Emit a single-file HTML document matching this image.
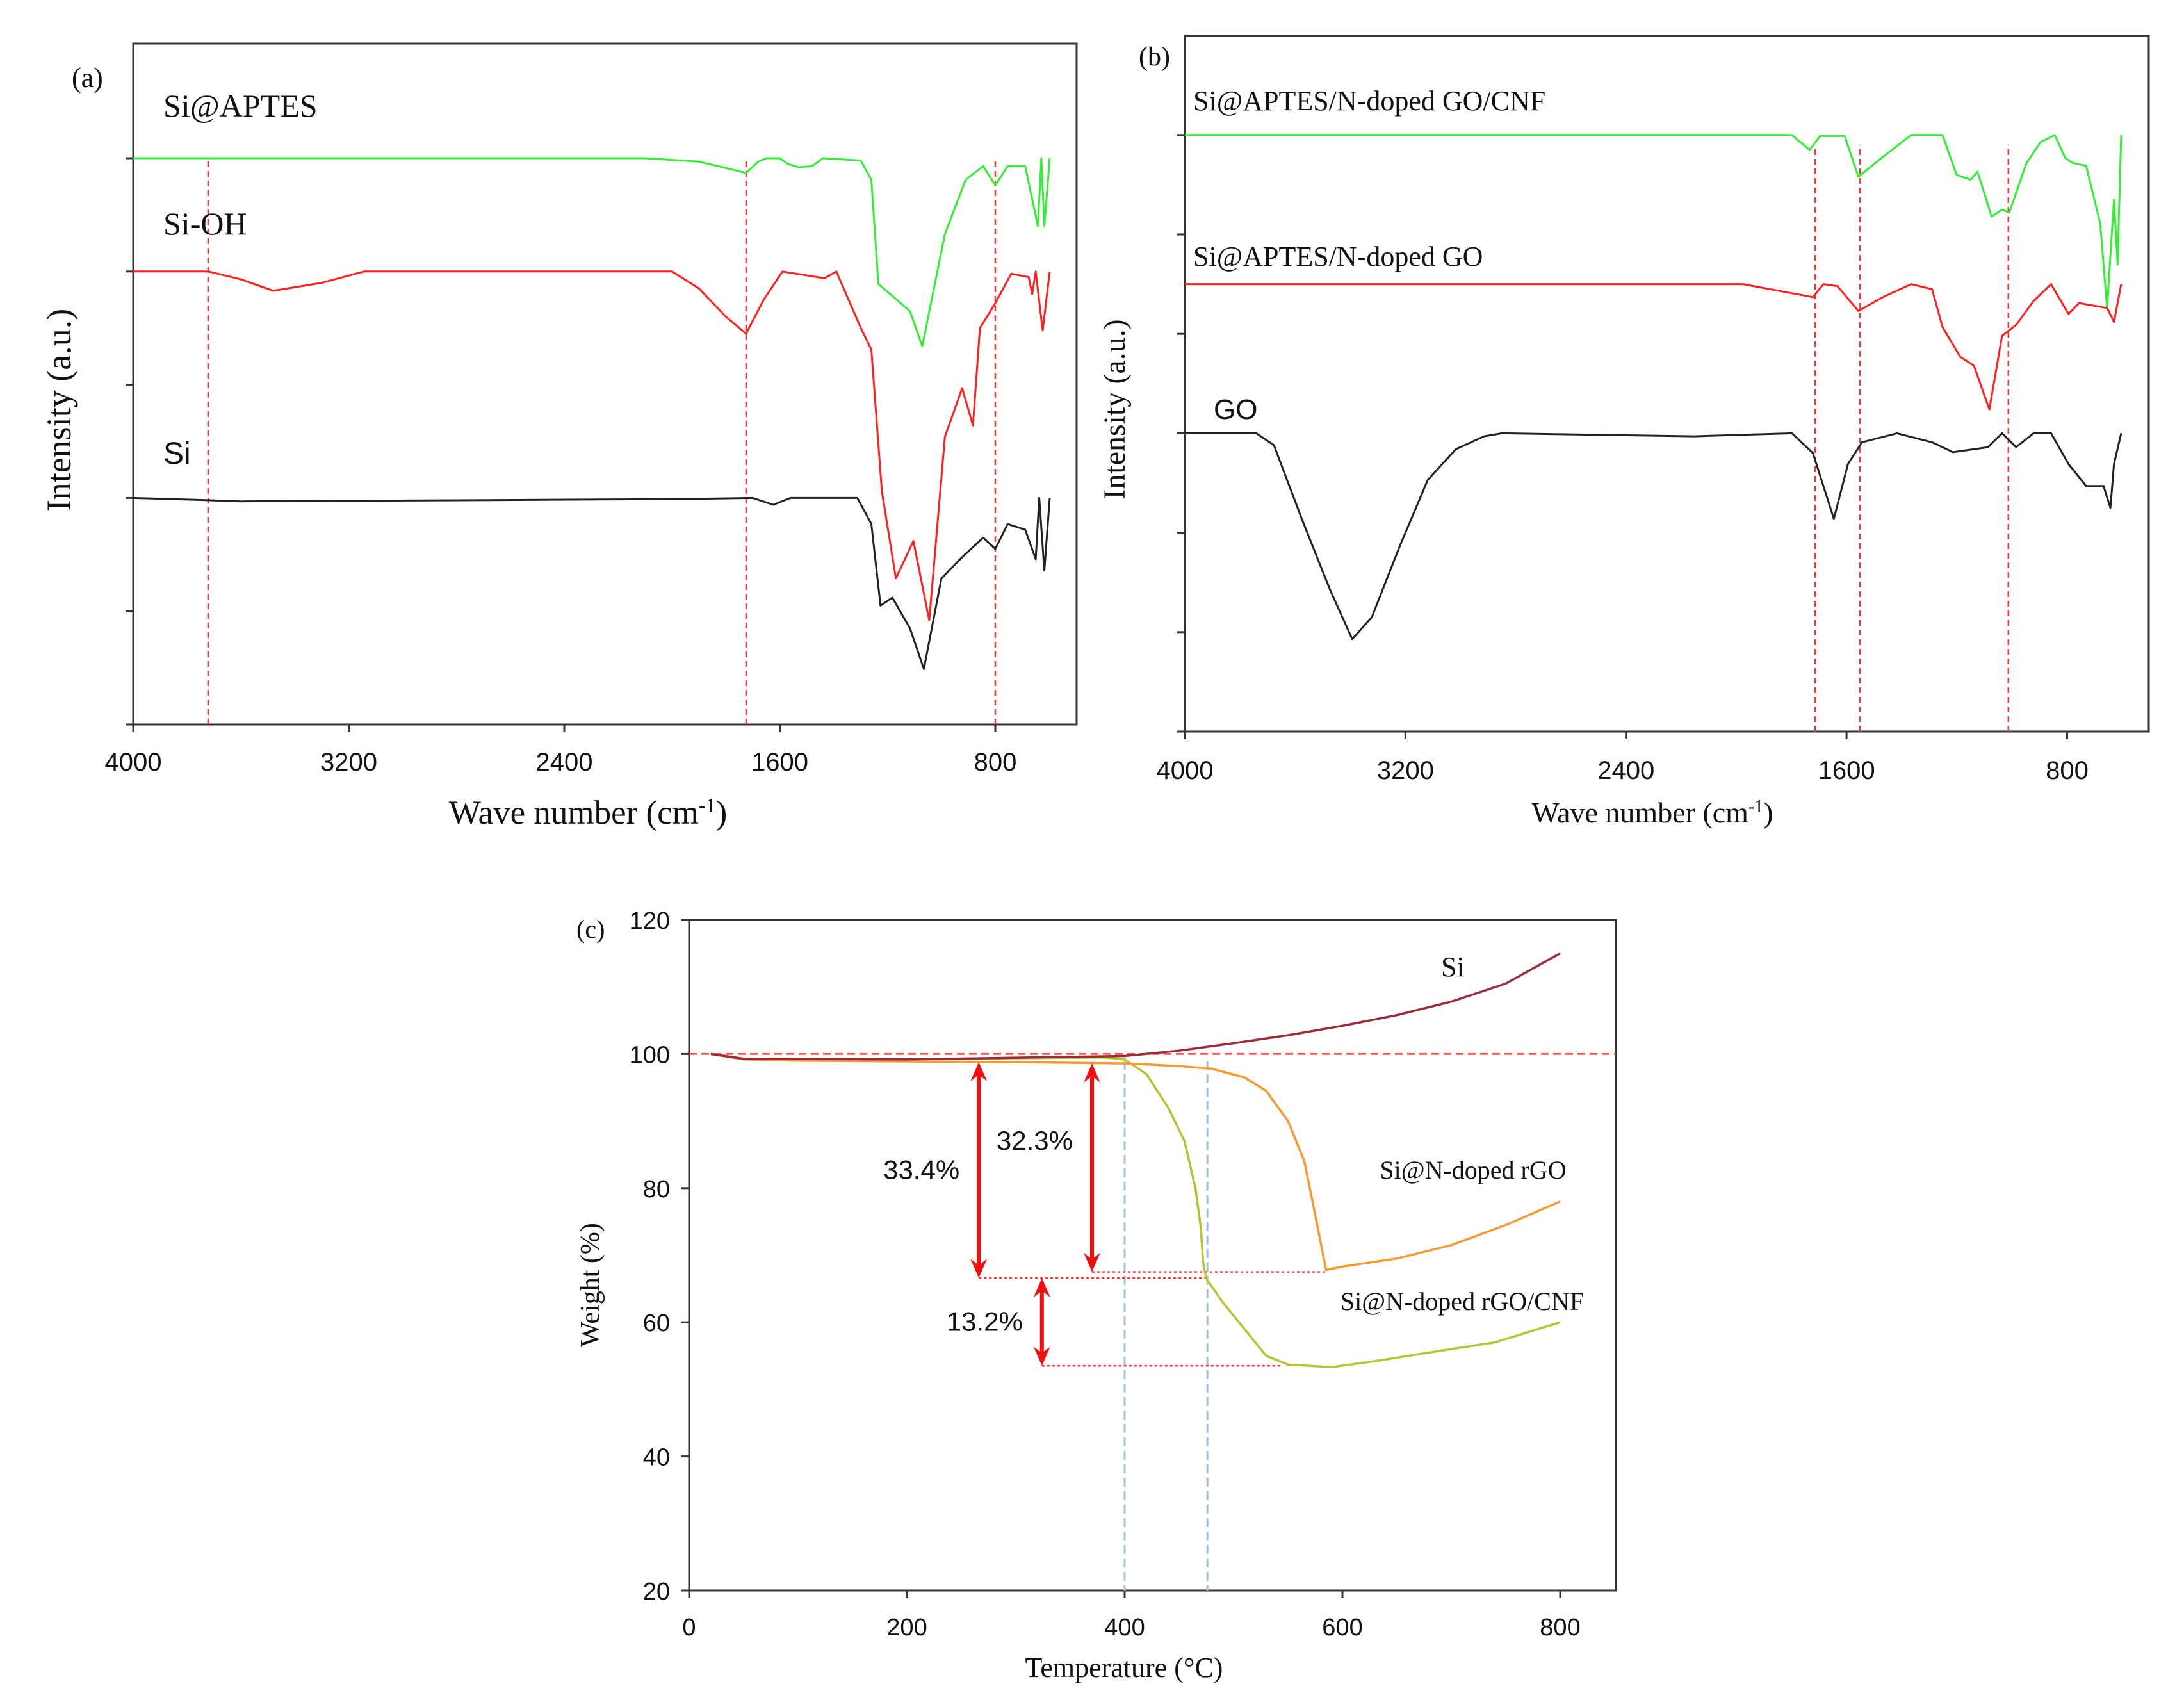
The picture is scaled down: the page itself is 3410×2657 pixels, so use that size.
<!DOCTYPE html>
<html><head><meta charset="utf-8">
<style>
html,body{margin:0;padding:0;background:#fff;}
svg{display:block;}
.serif{font-family:"Liberation Serif",serif;}
.sans{font-family:"Liberation Sans",sans-serif;}
</style></head>
<body>
<svg id="fig" width="3410" height="2657" viewBox="0 0 3410 2657" xmlns="http://www.w3.org/2000/svg">
<rect width="3410" height="2657" fill="#fff"/>
<g id="pa"></g>
<g id="pb"></g>
<g id="pc"></g>
</svg>
<script>
// ---------- Panel (a) data ----------
const aTicksX = [4000, 3200, 2400, 1600, 800];
const aTicksY = [0, 1, 2, 3, 4, 5];
const aDashWN = [3722, 1725, 800];
const aGreenWN = [4000,3000,2100,1900,1725,1680,1650,1600,1570,1530,1480,1440,1300,1260,1234,1117,1071,987,910,845,800,754,689,642,629,618,598];
const aGreenV  = [5,5,5,4.97,4.87,4.97,5,5,4.95,4.92,4.93,5,4.98,4.81,3.89,3.65,3.34,4.33,4.81,4.93,4.76,4.93,4.93,4.40,5.0,4.40,5.0];
const aRedWN = [4000,3720,3600,3480,3300,3143,2000,1900,1800,1725,1660,1590,1434,1390,1299,1260,1221,1169,1104,1045,987,923,883,857,800,741,676,663,650,624,598];
const aRedV  = [4,4,3.93,3.83,3.9,4,4,3.85,3.6,3.45,3.75,4,3.94,4,3.5,3.31,2.06,1.29,1.62,0.92,2.54,2.97,2.64,3.5,3.72,3.98,3.95,3.8,4,3.48,4];
const aBlackWN = [4000,3720,3600,2000,1700,1624,1560,1312,1260,1226,1182,1117,1065,1000,922,845,800,754,689,650,637,618,598];
const aBlackV  = [2,1.98,1.97,1.99,2,1.94,2,2,1.77,1.05,1.12,0.85,0.49,1.29,1.48,1.65,1.55,1.77,1.72,1.46,2,1.36,2];
// ---------- Panel (b) data ----------
const bTicksX = [4000, 3200, 2400, 1600, 800];
const bTicksY = [0, 1, 2, 3, 4, 5, 6];
const bDashWN = [1714, 1551, 1013];
const bGreenWN = [4000,2000,1798,1734,1696,1607,1557,1468,1366,1252,1201,1150,1125,1074,1036,1010,947,896,845,807,780,731,680,655,630,617,604];
const bGreenV  = [6,6,6,5.85,5.99,5.99,5.58,5.78,6,6,5.60,5.55,5.63,5.18,5.25,5.22,5.72,5.93,6,5.77,5.72,5.69,5.11,4.26,5.35,4.7,6];
const bRedWN = [4000,1976,1722,1684,1633,1557,1468,1366,1290,1252,1188,1138,1082,1036,985,922,858,795,757,655,630,604];
const bRedV  = [4.5,4.5,4.37,4.5,4.48,4.23,4.37,4.5,4.45,4.07,3.77,3.68,3.24,3.98,4.09,4.33,4.5,4.20,4.31,4.26,4.12,4.5];
const bBlackWN = [4000,3741,3677,3576,3474,3393,3322,3220,3119,3017,2915,2850,2153,1798,1722,1646,1595,1544,1417,1290,1214,1087,1036,985,922,858,795,731,668,643,630,604];
const bBlackV  = [3,3,2.88,2.14,1.43,0.93,1.15,1.87,2.53,2.84,2.97,3,2.97,3,2.80,2.14,2.69,2.91,3,2.91,2.81,2.86,3,2.86,3,3,2.69,2.47,2.47,2.25,2.69,3];
// ---------- Panel (c) data ----------
const cTicksX = [0, 200, 400, 600, 800];
const cTicksY = [20, 40, 60, 80, 100, 120];
const cSiT = [20,50,200,400,450,500,550,600,650,700,750,800];
const cSiW = [100,99.3,99.2,99.7,100.5,101.6,102.8,104.2,105.8,107.8,110.5,115];
const cRgoT = [20,50,100,300,400,450,480,510,530,550,565,575,585,600,650,700,750,800];
const cRgoW = [100,99.2,99,98.8,98.6,98.2,97.8,96.5,94.5,90,84,76,67.8,68.3,69.5,71.5,74.5,78];
const cCnfT = [20,50,200,380,400,420,440,455,465,470,472,475,490,510,530,550,590,630,680,740,800];
const cCnfW = [100,99.3,99.2,99.5,99.2,97,92,87,80,74,69,66.5,63,59,55,53.7,53.3,54.2,55.5,57,60];
const cArrowT = [266, 370, 324];
const cArrowTop = [98.8, 98.6, 66.6];
const cArrowBot = [66.6, 67.5, 53.5];
const cArrowLbl = ["33.4%", "32.3%", "13.2%"];
const cDotW = [66.6, 67.5, 53.5];
const cDotT0 = [266, 370, 324];
const cDotT1 = [475, 585, 545];
const cBlueT = [400, 476];

const NS = "http://www.w3.org/2000/svg";
function mk(parent, tag, attrs, text) {
  const e = document.createElementNS(NS, tag);
  for (const k in attrs) e.setAttribute(k, attrs[k]);
  if (text !== undefined) e.textContent = text;
  parent.appendChild(e);
  return e;
}
function pathFrom(xs, ys, fx, fy) {
  let d = "";
  for (let i = 0; i < xs.length; i++) d += (i ? "L" : "M") + fx(xs[i]).toFixed(1) + "," + fy(ys[i]).toFixed(1);
  return d;
}

// ===== Panel A =====
(function(){
  const g = document.getElementById("pa");
  const L=208,R=1681,T=68,B=1131;
  const xa = wn => L + (4000-wn)/3200*(1554-208);
  const ya = v => B - v*176.8;
  let e = mk(g,"rect",{x:L,y:T,width:R-L,height:B-T,fill:"none",stroke:"#333","stroke-width":3});
   
  aTicksX.forEach(t=>{
    e = mk(g,"line",{x1:xa(t),x2:xa(t),y1:B,y2:B+12,stroke:"#333","stroke-width":3});
     
    e = mk(g,"text",{x:xa(t),y:1203,"text-anchor":"middle","font-size":40,class:"sans",fill:"#111"},String(t));
     
  });
  aTicksY.forEach(t=>{
    e = mk(g,"line",{x1:L-12,x2:L,y1:ya(t),y2:ya(t),stroke:"#333","stroke-width":3});
     
  });
  aDashWN.forEach(w=>{
    e = mk(g,"line",{x1:xa(w),x2:xa(w),y1:B,y2:ya(5),stroke:"#f33","stroke-width":2.5,"stroke-dasharray":"9,6"});
     
  });
  e = mk(g,"path",{d:pathFrom(aGreenWN,aGreenV,xa,ya),fill:"none",stroke:"#33ee33","stroke-width":3,"stroke-linejoin":"round"});
   
  e = mk(g,"path",{d:pathFrom(aRedWN,aRedV,xa,ya),fill:"none",stroke:"#ff2020","stroke-width":3,"stroke-linejoin":"round"});
   
  e = mk(g,"path",{d:pathFrom(aBlackWN,aBlackV,xa,ya),fill:"none",stroke:"#222","stroke-width":3,"stroke-linejoin":"round"});
   
  e = mk(g,"text",{x:112,y:136,"font-size":44,class:"serif",fill:"#111"},"(a)");
   
  e = mk(g,"text",{x:255,y:182,"font-size":50,class:"serif",fill:"#111"},"Si@APTES");
   
  e = mk(g,"text",{x:255,y:366,"font-size":50,class:"serif",fill:"#111"},"Si-OH");
   
  e = mk(g,"text",{x:255,y:724,"font-size":48,class:"sans",fill:"#111"},"Si");
   
  e = mk(g,"text",{x:0,y:0,"font-size":54,class:"serif",fill:"#111","text-anchor":"middle",transform:"translate(110,640) rotate(-90)"},"Intensity (a.u.)");
   
  e = mk(g,"text",{x:918,y:1286,"font-size":53,class:"serif",fill:"#111","text-anchor":"middle"});
   
  e.innerHTML = 'Wave number (cm<tspan dy="-18" font-size="32">-1</tspan><tspan dy="18">)</tspan>';
})();

// ===== Panel B =====
(function(){
  const g = document.getElementById("pb");
  const L=1850,R=3355,T=56,B=1142;
  const xb = wn => L + (4000-wn)/3200*(3227.5-1850);
  const yb = v => B - v*155.2;
  let e = mk(g,"rect",{x:L,y:T,width:R-L,height:B-T,fill:"none",stroke:"#333","stroke-width":3});
   
  bTicksX.forEach(t=>{
    e = mk(g,"line",{x1:xb(t),x2:xb(t),y1:B,y2:B+12,stroke:"#333","stroke-width":3});
     
    e = mk(g,"text",{x:xb(t),y:1216,"text-anchor":"middle","font-size":40,class:"sans",fill:"#111"},String(t));
     
  });
  bTicksY.forEach(t=>{
    e = mk(g,"line",{x1:L-12,x2:L,y1:yb(t),y2:yb(t),stroke:"#333","stroke-width":3});
     
  });
  bDashWN.forEach(w=>{
    e = mk(g,"line",{x1:xb(w),x2:xb(w),y1:B,y2:yb(5.9),stroke:"#f33","stroke-width":2.5,"stroke-dasharray":"9,6"});
     
  });
  e = mk(g,"path",{d:pathFrom(bGreenWN,bGreenV,xb,yb),fill:"none",stroke:"#33ee33","stroke-width":3,"stroke-linejoin":"round"});
   
  e = mk(g,"path",{d:pathFrom(bRedWN,bRedV,xb,yb),fill:"none",stroke:"#ff2020","stroke-width":3,"stroke-linejoin":"round"});
   
  e = mk(g,"path",{d:pathFrom(bBlackWN,bBlackV,xb,yb),fill:"none",stroke:"#222","stroke-width":3,"stroke-linejoin":"round"});
   
  e = mk(g,"text",{x:1778,y:102,"font-size":42,class:"serif",fill:"#111"},"(b)");
   
  e = mk(g,"text",{x:1863,y:172,"font-size":44,class:"serif",fill:"#111"},"Si@APTES/N-doped GO/CNF");
   
  e = mk(g,"text",{x:1863,y:415,"font-size":44,class:"serif",fill:"#111"},"Si@APTES/N-doped GO");
   
  e = mk(g,"text",{x:1895,y:654,"font-size":44,class:"sans",fill:"#111"},"GO");
   
  e = mk(g,"text",{x:0,y:0,"font-size":48,class:"serif",fill:"#111","text-anchor":"middle",transform:"translate(1756,639) rotate(-90)"},"Intensity (a.u.)");
   
  e = mk(g,"text",{x:2580,y:1284,"font-size":46,class:"serif",fill:"#111","text-anchor":"middle"});
   
  e.innerHTML = 'Wave number (cm<tspan dy="-16" font-size="28">-1</tspan><tspan dy="16">)</tspan>';
})();

// ===== Panel C =====
(function(){
  const g = document.getElementById("pc");
  const L=1076,R=2523,T=1436,B=2483;
  const xc = t => L + t*1.7;
  const yc = w => B - (w-20)*10.47;
  let e = mk(g,"rect",{x:L,y:T,width:R-L,height:B-T,fill:"none",stroke:"#333","stroke-width":3});
   
  cTicksX.forEach(t=>{
    e = mk(g,"line",{x1:xc(t),x2:xc(t),y1:B,y2:B+12,stroke:"#333","stroke-width":3});
     
    e = mk(g,"text",{x:xc(t),y:2553,"text-anchor":"middle","font-size":38,class:"sans",fill:"#111"},String(t));
     
  });
  cTicksY.forEach(t=>{
    e = mk(g,"line",{x1:L-12,x2:L,y1:yc(t),y2:yc(t),stroke:"#333","stroke-width":3});
     
    e = mk(g,"text",{x:1046,y:yc(t)+14,"text-anchor":"end","font-size":38,class:"sans",fill:"#111"},String(t));
     
  });
  e = mk(g,"line",{x1:L,x2:R,y1:yc(100),y2:yc(100),stroke:"#f33","stroke-width":2.5,"stroke-dasharray":"12,7"});
   
  cBlueT.forEach(t=>{
    e = mk(g,"line",{x1:xc(t),x2:xc(t),y1:yc(99),y2:B,stroke:"#9cc3e6","stroke-width":3,"stroke-dasharray":"14,7"});
     
  });
  for (let i=0;i<cDotW.length;i++){
    e = mk(g,"line",{x1:xc(cDotT0[i]),x2:xc(cDotT1[i]),y1:yc(cDotW[i]),y2:yc(cDotW[i]),stroke:"#f33","stroke-width":2.5,"stroke-dasharray":"4,4"});
     
  }
  e = mk(g,"path",{d:pathFrom(cCnfT,cCnfW,xc,yc),fill:"none",stroke:"#b7c234","stroke-width":3.5,"stroke-linejoin":"round"});
   
  e = mk(g,"path",{d:pathFrom(cRgoT,cRgoW,xc,yc),fill:"none",stroke:"#f79a32","stroke-width":3.5,"stroke-linejoin":"round"});
   
  e = mk(g,"path",{d:pathFrom(cSiT,cSiW,xc,yc),fill:"none",stroke:"#9b2a3a","stroke-width":3.5,"stroke-linejoin":"round"});
   
  for (let i=0;i<cArrowT.length;i++){
    const x = xc(cArrowT[i]), y1 = yc(cArrowTop[i]), y2 = yc(cArrowBot[i]);
    const a = mk(g,"g",{});
     
    mk(a,"line",{x1:x,x2:x,y1:y1+14,y2:y2-14,stroke:"#f01010","stroke-width":6});
    mk(a,"polygon",{points:`${x},${y1} ${x-13},${y1+30} ${x},${y1+20} ${x+13},${y1+30}`,fill:"#f01010"});
    mk(a,"polygon",{points:`${x},${y2} ${x-13},${y2-30} ${x},${y2-20} ${x+13},${y2-30}`,fill:"#f01010"});
    e = mk(g,"text",{x:x-30,y:(y1+y2)/2+(i===1?-28:14),"text-anchor":"end","font-size":42,class:"sans",fill:"#111"},cArrowLbl[i]);
     
  }
  e = mk(g,"text",{x:900,y:1464,"font-size":40,class:"serif",fill:"#111"},"(c)");
   
  e = mk(g,"text",{x:2250,y:1524,"font-size":44,class:"serif",fill:"#111"},"Si");
   
  e = mk(g,"text",{x:2300,y:1840,"font-size":40,class:"serif",fill:"#111","text-anchor":"middle"},"Si@N-doped rGO");
   
  e = mk(g,"text",{x:2283,y:2045,"font-size":40,class:"serif",fill:"#111","text-anchor":"middle"},"Si@N-doped rGO/CNF");
   
  e = mk(g,"text",{x:0,y:0,"font-size":42,class:"serif",fill:"#111","text-anchor":"middle",transform:"translate(935,2006) rotate(-90)"},"Weight (%)");
   
  e = mk(g,"text",{x:1755,y:2618,"font-size":44,class:"serif",fill:"#111","text-anchor":"middle"},"Temperature (°C)");
   
})();
</script>
</body></html>
